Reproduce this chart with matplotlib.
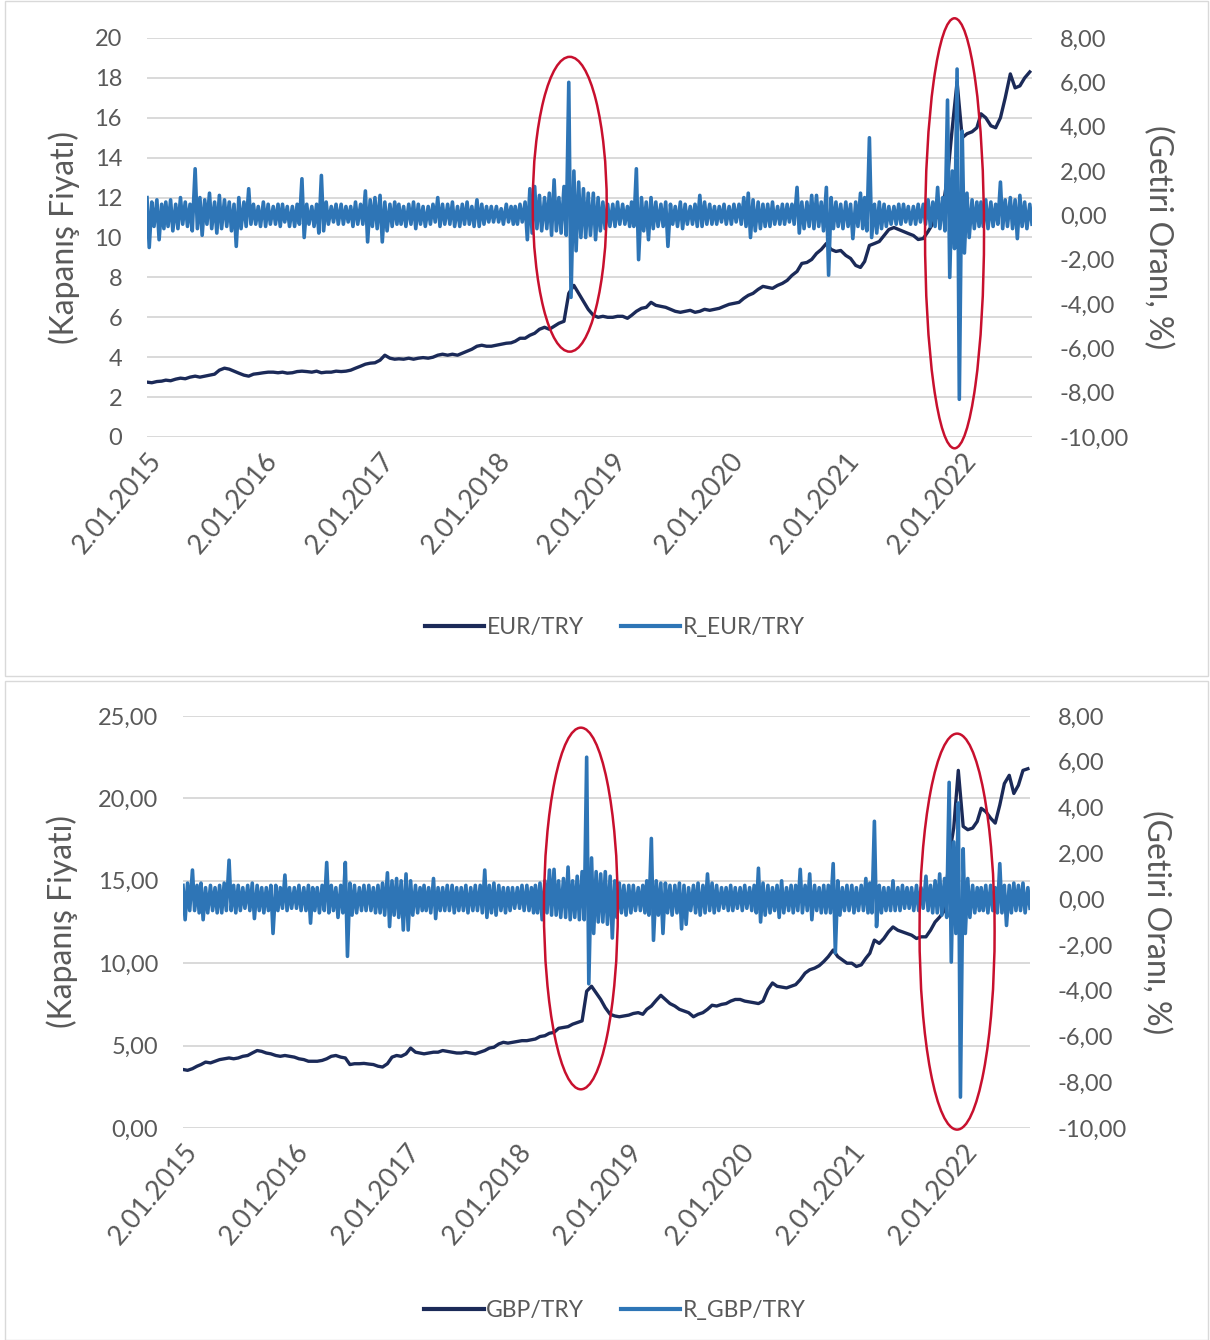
import numpy as np
import matplotlib
matplotlib.use("Agg")
import matplotlib.pyplot as plt
import matplotlib.dates as mdates
from matplotlib.patches import Ellipse, Rectangle
from matplotlib.lines import Line2D
from matplotlib.ticker import FuncFormatter, MultipleLocator

plt.rcParams['font.family'] = ['Lato', 'DejaVu Sans']

# yarım aylık kapanış fiyatları (her ayın 2'si ve 17'si), Ocak 2015 - Ağustos 2022
EUR_PRICE = [
    2.75, 2.72, 2.78, 2.80, 2.85, 2.82, 2.90, 2.95, 2.92, 3.00, 3.05, 3.00, 3.05, 3.10, 3.15, 3.35, 3.45, 3.40, 3.30, 3.20, 3.10, 3.05, 3.15, 3.18,
    3.22, 3.25, 3.25, 3.22, 3.25, 3.20, 3.22, 3.28, 3.30, 3.28, 3.25, 3.30, 3.22, 3.25, 3.25, 3.30, 3.28, 3.30, 3.35, 3.45, 3.55, 3.65, 3.70, 3.72,
    3.85, 4.10, 3.95, 3.90, 3.92, 3.90, 3.95, 3.90, 3.95, 3.98, 3.95, 4.00, 4.10, 4.15, 4.10, 4.15, 4.10, 4.20, 4.30, 4.40, 4.55, 4.60, 4.55, 4.55,
    4.60, 4.65, 4.70, 4.72, 4.80, 4.95, 4.95, 5.10, 5.20, 5.40, 5.50, 5.40, 5.55, 5.70, 5.80, 7.20, 7.60, 7.20, 6.80, 6.40, 6.10, 6.00, 6.05, 6.00,
    6.00, 6.05, 6.05, 5.95, 6.10, 6.30, 6.45, 6.50, 6.75, 6.60, 6.55, 6.50, 6.40, 6.30, 6.25, 6.30, 6.35, 6.25, 6.30, 6.40, 6.35, 6.40, 6.45, 6.55,
    6.65, 6.70, 6.75, 6.95, 7.10, 7.20, 7.40, 7.55, 7.50, 7.45, 7.60, 7.70, 7.85, 8.10, 8.30, 8.70, 8.75, 8.90, 9.20, 9.40, 9.70, 9.40, 9.30, 9.35,
    9.10, 8.95, 8.60, 8.50, 8.80, 9.60, 9.70, 9.80, 10.10, 10.40, 10.50, 10.40, 10.30, 10.20, 10.10, 9.90, 9.95, 10.30, 10.70, 11.10, 11.50, 13.00, 15.50, 17.80,
    15.00, 15.20, 15.30, 15.50, 16.20, 16.00, 15.60, 15.50, 16.00, 17.00, 18.20, 17.50, 17.60, 18.00, 18.30,
]
GBP_PRICE = [
    3.55, 3.50, 3.60, 3.75, 3.85, 4.00, 3.95, 4.05, 4.15, 4.20, 4.25, 4.20, 4.25, 4.35, 4.40, 4.55, 4.70, 4.65, 4.55, 4.50, 4.40, 4.35, 4.40, 4.35,
    4.30, 4.20, 4.15, 4.05, 4.05, 4.05, 4.10, 4.20, 4.35, 4.40, 4.30, 4.25, 3.85, 3.90, 3.90, 3.92, 3.88, 3.85, 3.75, 3.70, 3.90, 4.30, 4.40, 4.35,
    4.50, 4.85, 4.60, 4.55, 4.50, 4.55, 4.60, 4.60, 4.70, 4.65, 4.60, 4.55, 4.55, 4.60, 4.55, 4.50, 4.60, 4.70, 4.85, 4.90, 5.10, 5.20, 5.15, 5.20,
    5.25, 5.30, 5.30, 5.35, 5.40, 5.55, 5.60, 5.75, 5.80, 6.05, 6.10, 6.15, 6.30, 6.40, 6.50, 8.30, 8.60, 8.20, 7.80, 7.30, 6.90, 6.80, 6.75, 6.80,
    6.85, 6.95, 7.00, 6.90, 7.20, 7.40, 7.75, 8.05, 7.80, 7.55, 7.40, 7.20, 7.10, 7.00, 6.75, 6.90, 7.00, 7.20, 7.45, 7.40, 7.50, 7.55, 7.70, 7.80,
    7.80, 7.70, 7.65, 7.60, 7.55, 7.70, 8.40, 8.80, 8.60, 8.55, 8.50, 8.60, 8.70, 9.00, 9.40, 9.60, 9.70, 9.85, 10.10, 10.40, 10.80, 10.40, 10.20, 10.00,
    10.00, 9.80, 9.90, 10.30, 10.60, 11.40, 11.20, 11.50, 11.90, 12.20, 12.00, 11.90, 11.80, 11.70, 11.50, 11.60, 11.60, 12.00, 12.50, 12.80, 13.20, 16.50, 18.20, 21.70,
    18.30, 18.10, 18.20, 18.60, 19.40, 19.20, 18.80, 18.50, 19.60, 20.90, 21.40, 20.30, 20.80, 21.70, 21.80,
]

# günlük getiri oranı (%): her yarım ayın en yüksek ve en düşük değeri
EUR_R_HI = [
    0.8, 0.6, 0.7, 0.5, 0.6, 0.7, 0.5, 0.8, 0.6, 0.5, 2.1, 0.8, 0.7, 1.0, 0.6, 0.9, 0.7, 0.6, 0.5, 0.8, 0.6, 1.2, 0.5, 0.4,
    0.6, 0.5, 0.4, 0.5, 0.5, 0.4, 0.4, 0.5, 1.65, 0.5, 0.4, 0.5, 1.8, 0.6, 0.4, 0.5, 0.5, 0.4, 0.4, 0.6, 0.5, 1.1, 0.7, 0.8,
    0.9, 0.6, 0.5, 0.6, 0.5, 0.4, 0.5, 0.6, 0.5, 0.4, 0.4, 0.5, 0.8, 0.5, 0.5, 0.6, 0.4, 0.5, 0.6, 0.4, 0.7, 0.5, 0.4, 0.4,
    0.4, 0.3, 0.5, 0.4, 0.4, 0.5, 0.6, 1.2, 1.3, 0.9, 0.8, 1.0, 1.6, 0.8, 1.3, 6.0, 2.0, 1.5, 1.2, 1.0, 1.0, 0.8, 0.6, 0.5,
    0.5, 0.6, 0.5, 0.4, 0.6, 2.1, 0.8, 0.6, 0.8, 0.6, 0.5, 0.6, 0.5, 0.4, 0.6, 0.5, 0.4, 0.5, 0.9, 0.6, 0.5, 0.4, 0.4, 0.5,
    0.4, 0.5, 0.5, 0.8, 1.0, 0.7, 0.6, 0.5, 0.5, 0.6, 0.4, 0.5, 0.5, 0.5, 1.26, 0.6, 0.6, 0.9, 0.9, 0.6, 1.26, 0.8, 0.6, 0.5,
    0.6, 0.5, 0.6, 1.0, 0.8, 3.5, 0.5, 0.6, 0.5, 0.4, 0.4, 0.5, 0.5, 0.4, 0.4, 0.5, 0.5, 0.7, 0.6, 1.26, 0.8, 5.2, 2.0, 6.6,
    3.8, 1.0, 0.7, 0.6, 0.6, 0.7, 0.6, 0.5, 1.5, 0.7, 0.8, 0.7, 0.9, 0.6, 0.5,
]
EUR_R_LO = [
    -1.45, -0.5, -1.1, -0.6, -0.5, -0.7, -0.6, -0.4, -0.5, -0.7, -0.6, -0.9, -0.4, -0.6, -0.8, -0.6, -0.5, -0.7, -1.4, -0.6, -0.5, -0.4, -0.4, -0.5,
    -0.5, -0.4, -0.4, -0.5, -0.3, -0.5, -0.5, -0.4, -1.0, -0.4, -0.5, -0.8, -0.7, -0.4, -0.3, -0.4, -0.4, -0.3, -0.5, -0.4, -0.4, -1.2, -0.5, -0.6,
    -1.2, -0.7, -0.5, -0.4, -0.4, -0.5, -0.4, -0.6, -0.4, -0.5, -0.4, -0.3, -0.5, -0.4, -0.4, -0.5, -0.5, -0.4, -0.4, -0.5, -0.5, -0.4, -0.3, -0.3,
    -0.3, -0.4, -0.3, -0.4, -0.4, -0.3, -1.1, -0.8, -0.6, -0.7, -0.6, -0.9, -0.7, -0.8, -0.9, -3.7, -1.6, -1.0, -1.0, -0.9, -1.1, -0.7, -0.6, -0.5,
    -0.5, -0.4, -0.4, -0.5, -0.5, -2.0, -0.7, -1.1, -0.6, -0.5, -0.5, -1.4, -0.4, -0.5, -0.6, -0.4, -0.4, -0.5, -0.5, -0.4, -0.4, -0.4, -0.3, -0.4,
    -0.4, -0.3, -0.4, -0.5, -1.0, -0.7, -0.6, -0.5, -0.5, -0.4, -0.4, -0.4, -0.3, -0.4, -0.8, -0.6, -0.5, -0.6, -0.5, -0.7, -2.7, -0.6, -0.5, -0.6,
    -0.5, -1.05, -0.5, -0.6, -0.7, -1.0, -0.8, -0.6, -0.5, -0.4, -0.4, -0.4, -0.3, -0.4, -0.4, -0.3, -0.4, -0.5, -0.5, -0.6, -0.7, -2.8, -1.5, -8.3,
    -1.7, -1.0, -0.6, -0.5, -0.5, -0.6, -0.5, -0.4, -0.6, -0.5, -0.6, -1.05, -0.5, -0.6, -0.4,
]
GBP_R_HI = [
    0.6, 0.7, 1.27, 0.6, 0.7, 0.5, 0.6, 0.5, 0.6, 0.7, 1.7, 0.6, 0.6, 0.5, 0.6, 0.7, 0.6, 0.5, 0.5, 0.6, 0.6, 0.5, 1.05, 0.5,
    0.5, 0.6, 0.5, 0.6, 0.5, 0.5, 0.6, 1.6, 0.6, 0.5, 0.6, 1.6, 0.7, 0.6, 0.5, 0.6, 0.6, 0.5, 0.6, 0.7, 1.15, 0.8, 0.9, 0.8,
    1.1, 0.8, 0.6, 0.5, 0.6, 0.5, 0.9, 0.5, 0.5, 0.6, 0.6, 0.5, 0.5, 0.6, 0.5, 0.6, 0.6, 1.27, 0.6, 0.7, 0.6, 0.5, 0.5, 0.5,
    0.5, 0.6, 0.6, 0.5, 0.6, 0.7, 0.8, 1.27, 1.3, 0.8, 0.9, 1.4, 0.8, 1.0, 1.2, 6.2, 1.8, 1.2, 1.1, 1.2, 1.0, 0.8, 0.7, 0.6,
    0.6, 0.6, 0.5, 0.6, 0.8, 2.65, 0.8, 0.7, 0.7, 0.6, 0.6, 0.7, 0.6, 0.5, 0.6, 0.7, 0.6, 1.1, 0.7, 0.6, 0.5, 0.5, 0.6, 0.5,
    0.5, 0.6, 0.5, 0.6, 1.35, 0.7, 0.6, 0.5, 0.6, 0.8, 0.5, 0.6, 0.6, 1.3, 0.6, 1.1, 0.6, 0.5, 0.6, 0.6, 1.55, 0.8, 0.5, 0.6,
    0.6, 0.5, 0.6, 0.9, 0.7, 3.4, 0.6, 0.5, 0.5, 0.8, 0.5, 0.6, 0.5, 0.5, 0.6, 0.5, 1.0, 0.6, 0.8, 1.1, 0.9, 5.1, 2.5, 4.2,
    2.2, 0.9, 0.6, 0.5, 0.5, 0.6, 0.6, 0.5, 1.55, 0.6, 0.6, 0.7, 0.6, 0.7, 0.5,
]
GBP_R_LO = [
    -0.9, -0.5, -0.5, -0.6, -0.9, -0.6, -0.5, -0.6, -0.6, -0.5, -0.5, -0.6, -0.5, -0.4, -0.5, -0.85, -0.5, -0.6, -0.5, -1.5, -0.5, -0.4, -0.5, -0.4,
    -0.4, -0.5, -0.5, -1.05, -0.5, -0.6, -0.5, -0.6, -0.5, -0.8, -0.6, -2.5, -0.7, -0.6, -0.5, -0.5, -0.5, -0.6, -0.6, -0.7, -1.2, -0.7, -0.8, -1.35,
    -1.35, -0.7, -0.6, -0.5, -0.5, -0.6, -0.85, -0.5, -0.5, -0.5, -0.6, -0.5, -0.5, -0.6, -0.5, -0.5, -0.6, -0.8, -0.6, -0.7, -0.5, -0.6, -0.5, -0.4,
    -0.4, -0.5, -0.5, -0.6, -0.6, -0.9, -0.6, -0.7, -0.7, -0.8, -0.8, -0.9, -0.8, -0.9, -0.9, -3.7, -1.5, -1.0, -1.0, -1.1, -1.7, -0.8, -0.6, -0.7,
    -0.6, -0.5, -0.5, -0.6, -0.7, -1.8, -0.7, -1.5, -0.6, -0.7, -0.6, -1.3, -1.1, -0.5, -0.6, -0.7, -0.6, -0.5, -0.6, -0.5, -0.4, -0.5, -0.5, -0.4,
    -0.5, -0.4, -0.5, -0.6, -1.0, -0.7, -0.6, -0.5, -0.8, -0.6, -0.5, -0.6, -0.5, -0.6, -0.5, -0.9, -0.5, -0.6, -0.6, -0.6, -2.35, -0.7, -0.5, -0.5,
    -0.6, -0.5, -0.5, -0.6, -0.6, -1.2, -0.6, -0.5, -0.5, -0.5, -0.5, -0.4, -0.4, -0.5, -0.5, -0.4, -0.5, -0.6, -0.6, -0.7, -0.8, -2.75, -1.5, -8.65,
    -1.5, -0.8, -0.6, -0.5, -0.5, -0.6, -0.5, -0.6, -0.6, -1.15, -0.6, -0.5, -0.5, -0.6, -0.4,
]

YEARS = list(range(2015, 2023))

# tarih ekseni: her ayın 1'i ve 16'sı ile başlayan yarım aylar
months = np.arange(np.datetime64('2015-01'), np.datetime64('2022-09'), dtype='datetime64[M]').astype('datetime64[D]')
half_starts = np.sort(np.concatenate([months, months + 15]))[:len(EUR_PRICE)]
price_dates = half_starts + 1
hi_dates = half_starts + 1
lo_dates = half_starts + 8


def zigzag(hi, lo):
    t = np.empty(2 * len(hi), dtype='datetime64[D]')
    v = np.empty(2 * len(hi))
    t[0::2], t[1::2] = hi_dates, lo_dates
    v[0::2], v[1::2] = hi, lo
    return t, v


PRICE_COLOR = '#1b2a58'
RET_COLOR = '#2e75b6'
GRID = '#d9d9d9'
TXT = '#595959'
RED = '#c8102e'

comma = FuncFormatter(lambda v, p: f"{v:.2f}".replace('.', ','))
intfmt = FuncFormatter(lambda v, p: f"{v:.0f}")

fig = plt.figure(figsize=(12.1, 13.4), dpi=100)

# grafik alanı çerçeveleri
fig.patches.append(Rectangle((5 / 1210, (1340 - 676) / 1340), 1203 / 1210, 675 / 1340,
                             transform=fig.transFigure, fill=False, edgecolor=GRID, lw=1))
fig.patches.append(Rectangle((5 / 1210, 0.0), 1203 / 1210, (1340 - 681) / 1340,
                             transform=fig.transFigure, fill=False, edgecolor=GRID, lw=1))

panels = [
    dict(rect=[147 / 1210, (1340 - 437) / 1340, 885 / 1210, 399 / 1340],
         price=EUR_PRICE, hi=EUR_R_HI, lo=EUR_R_LO, name='EUR/TRY',
         ylim=(0, 20), ystep=2, yfmt=intfmt, legend_y=(1340 - 628) / 1340,
         ylab_x=(80 - 147) / 885, rlab_x=(1158 - 147) / 885,
         ellipses=[('2018-08-20', 0.5, 232, 13.3), ('2021-12-09', -0.81, 185, 19.4)]),
    dict(rect=[183 / 1210, (1340 - 1128) / 1340, 847 / 1210, 412 / 1340],
         price=GBP_PRICE, hi=GBP_R_HI, lo=GBP_R_LO, name='GBP/TRY',
         ylim=(0, 25), ystep=5, yfmt=comma, legend_y=(1340 - 1311) / 1340,
         ylab_x=(78 - 183) / 847, rlab_x=(1156 - 183) / 847,
         ellipses=[('2018-07-29', -0.41, 242, 15.8), ('2021-12-13', -1.42, 246, 17.3)]),
]

for p in panels:
    ax = fig.add_axes(p['rect'])
    ax2 = ax.twinx()

    ax.plot(price_dates, p['price'], color=PRICE_COLOR, lw=2.4, solid_joinstyle='round')
    rt, rv = zigzag(p['hi'], p['lo'])
    ax2.plot(rt, rv, color=RET_COLOR, lw=2.6)

    ax.set_xlim(np.datetime64('2015-01-02'), np.datetime64('2022-08-09'))
    ax.set_ylim(*p['ylim'])
    ax.yaxis.set_major_locator(MultipleLocator(p['ystep']))
    ax.yaxis.set_major_formatter(p['yfmt'])
    ax.grid(axis='y', color=GRID, lw=1.4)
    ax.set_axisbelow(True)

    ax2.set_ylim(-10, 8)
    ax2.yaxis.set_major_locator(MultipleLocator(2))
    ax2.yaxis.set_major_formatter(comma)

    ticks = [np.datetime64(f'{y}-01-02') for y in YEARS]
    ax.set_xticks(ticks)
    ax.set_xticklabels([f'2.01.{y}' for y in YEARS], rotation=50, ha='right',
                       va='top', rotation_mode='anchor')

    for a in (ax, ax2):
        for s in a.spines.values():
            s.set_visible(False)
        a.tick_params(length=0, labelsize=17, labelcolor=TXT)
    ax.tick_params(axis='x', labelsize=19.5, pad=8)
    ax.tick_params(axis='y', pad=18)
    ax2.tick_params(axis='y', pad=20)

    ax.set_ylabel('(Kapanış Fiyatı)', fontsize=23, color=TXT)
    ax.yaxis.set_label_coords(p['ylab_x'], 0.5)
    ax2.set_ylabel('(Getiri Oranı, %)', fontsize=23, color=TXT, rotation=270, va='center')
    ax2.yaxis.set_label_coords(p['rlab_x'], 0.5)

    for d, yc, w, h in p['ellipses']:
        e = Ellipse((mdates.date2num(np.datetime64(d)), yc), width=w, height=h,
                    fill=False, edgecolor=RED, lw=1.8, clip_on=False, zorder=5)
        ax2.add_patch(e)

    handles = [Line2D([], [], color=PRICE_COLOR, lw=3),
               Line2D([], [], color=RET_COLOR, lw=3)]
    fig.legend(handles, [p['name'], 'R_' + p['name']], loc='center',
               bbox_to_anchor=(0.508, p['legend_y']), ncol=2, frameon=False,
               fontsize=16.5, labelcolor=TXT, handlelength=2.6,
               handletextpad=0.1, columnspacing=1.6)

fig.savefig('out.png', dpi=100)
